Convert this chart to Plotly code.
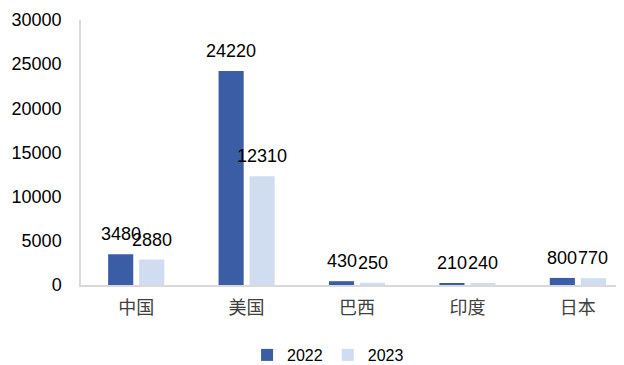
import plotly.graph_objects as go

categories = ["中国", "美国", "巴西", "印度", "日本"]
values_2022 = [3480, 24220, 430, 210, 800]
values_2023 = [2880, 12310, 250, 240, 770]
series_names = ["2022", "2023"]

font = "Liberation Sans, Arial, Noto Sans CJK SC"

fig = go.Figure()
fig.add_trace(go.Bar(x=categories, y=values_2022, name=series_names[0],
                     marker_color="#3A5DA5", marker_line_width=0))
fig.add_trace(go.Bar(x=categories, y=values_2023, name=series_names[1],
                     marker_color="#D0DDF0", marker_line_width=0))

# data labels centered above each bar
for vals, shift in ((values_2022, -15.5), (values_2023, 15.5)):
    for c, v in zip(categories, vals):
        fig.add_annotation(x=c, y=v, text=str(v), showarrow=False,
                           xshift=shift, yshift=8, yanchor="bottom",
                           font=dict(size=18, color="#000000", family=font))

# page body has an 8px margin, so the figure is sized to fit the 624x365 window
fig.update_layout(
    width=616, height=357,
    margin=dict(l=73, r=0, t=12, b=80, autoexpand=False),
    paper_bgcolor="white", plot_bgcolor="white",
    barmode="group", bargap=0.438, bargroupgap=0.19,
    font=dict(family=font, size=18, color="#000000"),
    legend=dict(orientation="h", x=0.455, xanchor="center", y=-0.2, yanchor="top",
                font=dict(size=16), itemwidth=30, traceorder="normal"),
    showlegend=True,
)
fig.update_xaxes(range=[-0.5, 4.418], showline=True, linecolor="#D9D9D9", linewidth=1.5,
                 ticks="", tickfont=dict(size=18, family=font, color="#404040"), showgrid=False,
                 ticklabelstandoff=6)
fig.update_yaxes(range=[0, 30000], dtick=5000, tickformat="d", showline=True,
                 linecolor="#D9D9D9", linewidth=1.5,
                 showgrid=False, zeroline=False, ticks="",
                 tickfont=dict(size=18, family=font, color="#000000"),
                 ticklabelstandoff=14)

fig.write_html("out.html")
